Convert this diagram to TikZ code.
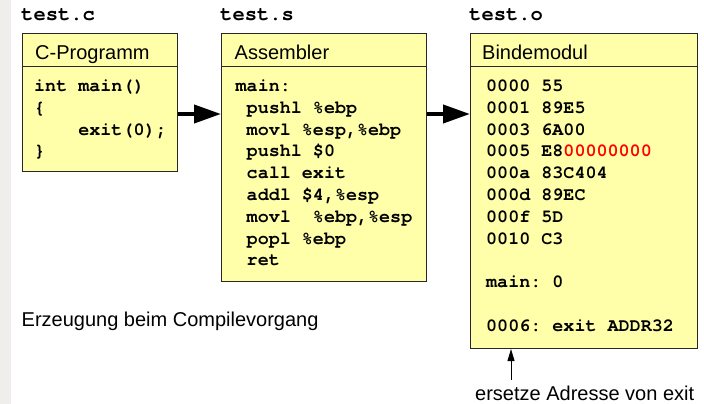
\documentclass[tikz,border=0pt]{standalone}
\usepackage{fontspec}
\setmainfont{Liberation Sans}
\setsansfont{Liberation Sans}
\setmonofont{TeX Gyre Cursor}
\usetikzlibrary{arrows.meta}
\definecolor{boxyellow}{RGB}{255,255,170}
\definecolor{stripgray}{RGB}{239,238,236}
\definecolor{boxborder}{RGB}{40,40,40}
\tikzset{
  modbox/.style={draw=boxborder, fill=boxyellow, line width=1pt, inner sep=0pt, anchor=north west},
  headtext/.style={anchor=base west, inner sep=0pt, font=\fontsize{20}{24}\selectfont},
  notetext/.style={anchor=base west, inner sep=0pt, font=\fontsize{20}{24}\selectfont},
  codetext/.style={anchor=base west, inner sep=0pt, font=\ttfamily\bfseries\fontsize{18.4}{22}\selectfont},
  filetext/.style={anchor=base west, inner sep=0pt, font=\ttfamily\bfseries\fontsize{20.5}{24}\selectfont},
  bigarrow/.style={line width=4pt, -{Triangle[length=27pt,width=18pt]}},
  smallarrow/.style={line width=1pt, -{Triangle[length=12pt,width=7pt]}}
}
\begin{document}
\begin{tikzpicture}[x=1pt, y=-1pt]
\useasboundingbox (0,0) rectangle (704,404);
\fill[white] (0,0) rectangle (704,404);
\fill[stripgray] (0,0) rectangle (11,404);

% File names
\node[filetext] (cname) at (21,20.5) {test.c};
\node[filetext] (sname) at (220,20.5) {test.s};
\node[filetext] (oname) at (469,20.5) {test.o};

% Boxes with header line
\node[modbox, minimum width=155pt, minimum height=138pt] (cbox) at (22,33) {};
\node[modbox, minimum width=205pt, minimum height=248pt] (sbox) at (221,33) {};
\node[modbox, minimum width=227pt, minimum height=315pt] (obox) at (470,33) {};
\foreach \b in {cbox,sbox,obox} {
  \draw[boxborder, line width=1pt] ([yshift=-34pt]\b.north west) -- ([yshift=-34pt]\b.north east);
}

\node[headtext] (chead) at (35,59.5) {C-Programm};
\node[headtext] (shead) at (234.5,59.5) {Assembler};
\node[headtext] (ohead) at (482,59.5) {Bindemodul};

% C source
\foreach \codeline [count=\i] in {{int main()}, {\{}, {\hphantom{mmmm}exit(0);}, {\}}} {
  \node[codetext] (c\i) at (34,91.5+21.8*\i-21.8) {\codeline};
}

% Assembler source
\foreach \codeline [count=\i] in {{main:}, {\hphantom{m}pushl \%ebp}, {\hphantom{m}movl \%esp,\%ebp},
    {\hphantom{m}pushl \$0}, {\hphantom{m}call exit}, {\hphantom{m}addl \$4,\%esp},
    {\hphantom{m}movl\ \ \%ebp,\%esp}, {\hphantom{m}popl \%ebp}, {\hphantom{m}ret}} {
  \node[codetext] (s\i) at (235.5,91.5+21.8*\i-21.8) {\codeline};
}

% Object module
\foreach \codeline [count=\i] in {{0000 55}, {0001 89E5}, {0003 6A00}, {0005 E8\textcolor{red}{00000000}},
    {000a 83C404}, {000d 89EC}, {000f 5D}, {0010 C3}, {}, {main: 0}, {}, {0006: exit ADDR32}} {
  \node[codetext] (o\i) at (486,91.5+21.8*\i-21.8) {\codeline};
}

% Arrows between the stages
\coordinate (arrowrow) at (0,114);
\draw[bigarrow] (cbox.east |- arrowrow) -- (sbox.west |- arrowrow);
\draw[bigarrow] (sbox.east |- arrowrow) -- (obox.west |- arrowrow);

% Notes
\node[notetext] (compile) at (21.5,326) {Erzeugung beim Compilevorgang};
\node[notetext] (fixnote) at (475,400) {ersetze Adresse von exit};
\coordinate (fixfoot) at (511,380);
\draw[smallarrow] (fixfoot) -- (fixfoot |- obox.south);
\end{tikzpicture}
\end{document}
